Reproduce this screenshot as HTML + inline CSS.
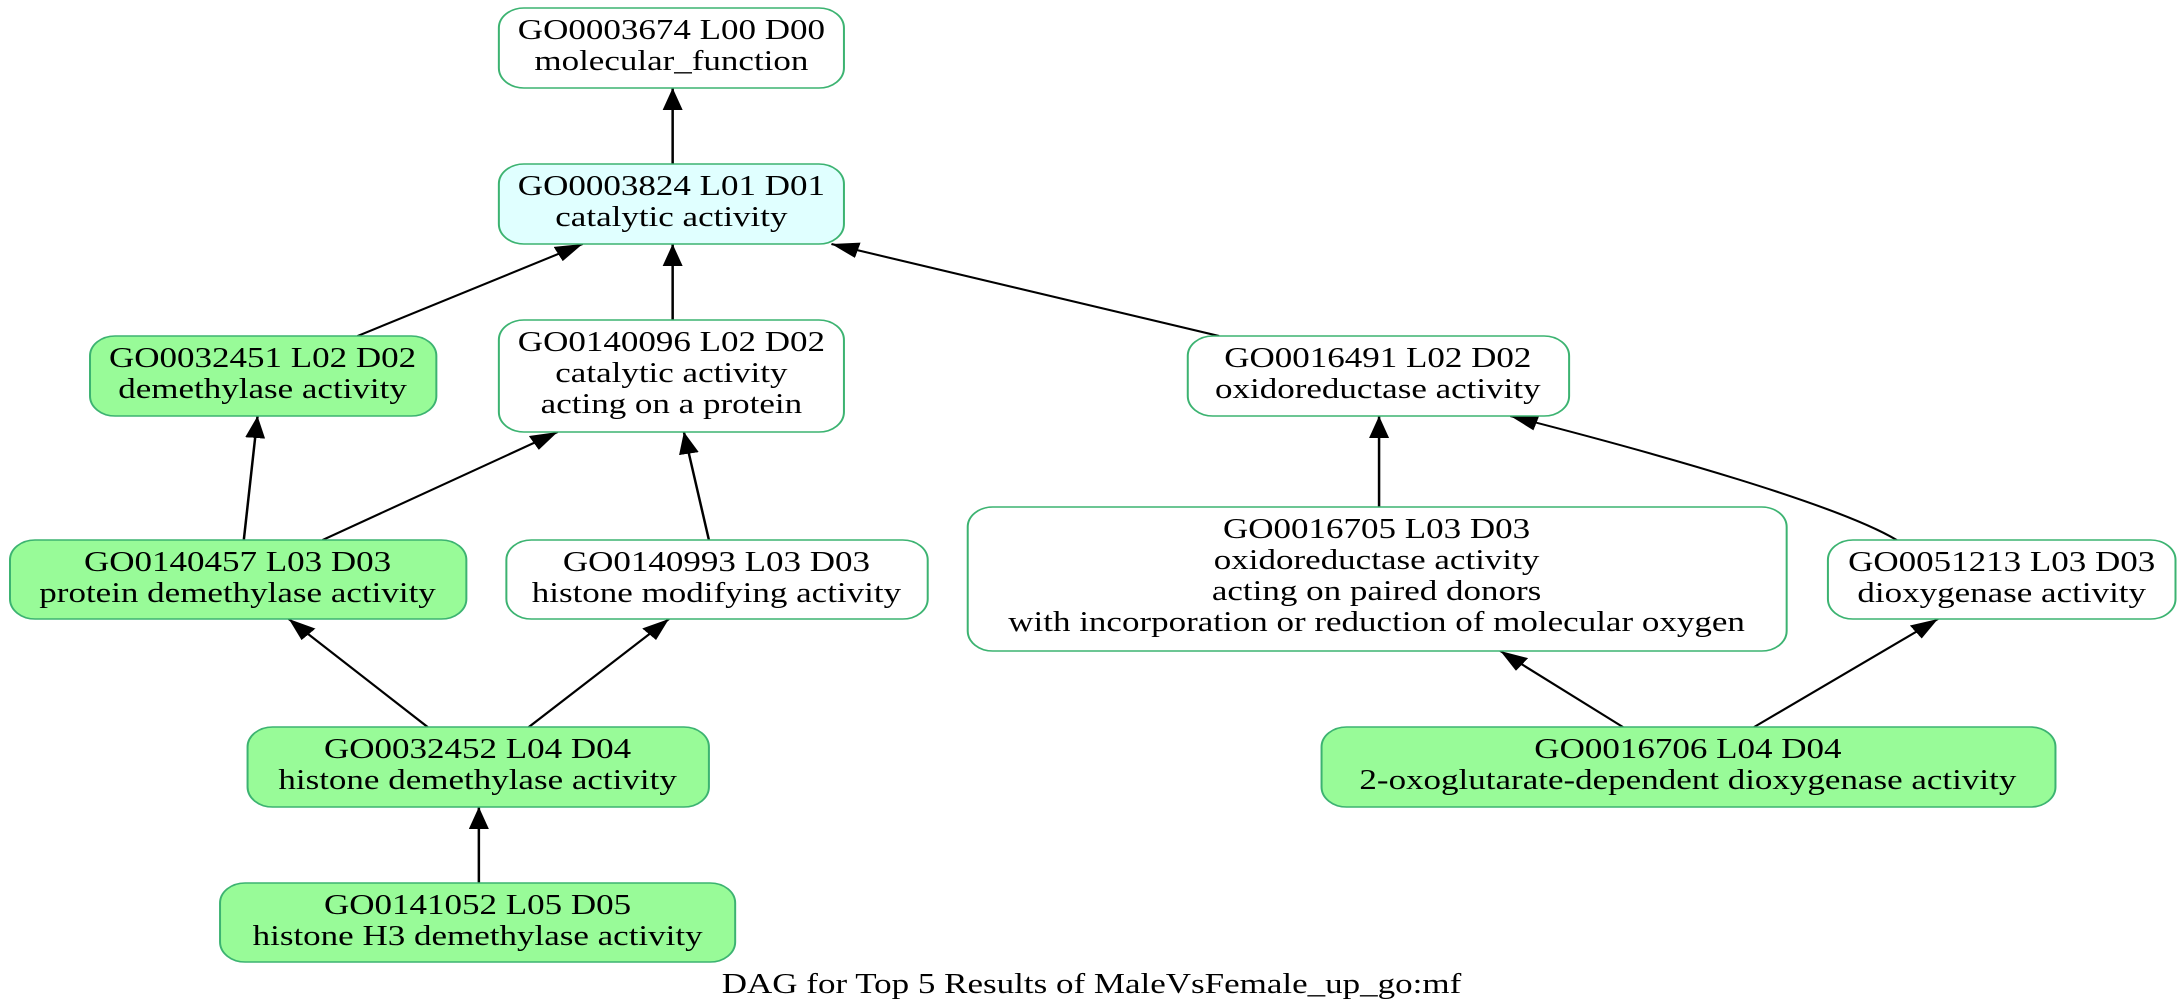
<!DOCTYPE html>
<html><head><meta charset="utf-8"><style>
html,body{margin:0;padding:0;background:#fff;width:2183px;height:1008px;overflow:hidden}
svg{display:block}
text{font-family:"Liberation Serif",serif;font-size:28px;fill:#000;text-anchor:middle}
.n{stroke:#3cb371;stroke-width:1.6}
.e{stroke:#000;stroke-width:2;fill:none}
</style></head><body>
<svg width="2183" height="1008" viewBox="0 0 1746 1008" preserveAspectRatio="none">
<defs><marker id="a" markerUnits="userSpaceOnUse" markerWidth="24" markerHeight="18" refX="22" refY="8" orient="auto"><path d="M0,0 L22,8 L0,16 z" fill="#000"/></marker></defs>
<rect width="1746" height="1008" fill="#fff"/>
<!-- edges -->
<g class="e" marker-end="url(#a)">
<line x1="538" y1="164" x2="538" y2="88"/>
<line x1="286" y1="336" x2="466" y2="244"/>
<line x1="538" y1="320" x2="538" y2="244"/>
<line x1="975" y1="336" x2="665" y2="244"/>
<line x1="195" y1="540" x2="206" y2="416"/>
<line x1="258" y1="540" x2="446" y2="432"/>
<line x1="567" y1="540" x2="547" y2="432"/>
<line x1="1103" y1="507" x2="1103" y2="416"/>
<path d="M1517,540 C1470,505 1330,455 1208,416"/>
<line x1="342" y1="727" x2="231" y2="619"/>
<line x1="423" y1="727" x2="535" y2="619"/>
<line x1="1298" y1="727" x2="1200" y2="651"/>
<line x1="1403" y1="727" x2="1550" y2="619"/>
<line x1="383" y1="883" x2="383" y2="807"/>
</g>
<!-- nodes -->
<rect class="n" x="399" y="8" width="276" height="80" rx="20" fill="#fff"/>
<text x="537" y="39">GO0003674 L00 D00</text><text x="537" y="70">molecular_function</text>

<rect class="n" x="399" y="164" width="276" height="80" rx="20" fill="#e0ffff"/>
<text x="537" y="195">GO0003824 L01 D01</text><text x="537" y="226">catalytic activity</text>

<rect class="n" x="72" y="336" width="277" height="80" rx="20" fill="#98fb98"/>
<text x="210" y="367">GO0032451 L02 D02</text><text x="210" y="398">demethylase activity</text>

<rect class="n" x="399" y="320" width="276" height="112" rx="20" fill="#fff"/>
<text x="537" y="351">GO0140096 L02 D02</text><text x="537" y="382">catalytic activity</text><text x="537" y="413">acting on a protein</text>

<rect class="n" x="950" y="336" width="305" height="80" rx="20" fill="#fff"/>
<text x="1102" y="367">GO0016491 L02 D02</text><text x="1102" y="398">oxidoreductase activity</text>

<rect class="n" x="8" y="540" width="365" height="79" rx="20" fill="#98fb98"/>
<text x="190" y="571">GO0140457 L03 D03</text><text x="190" y="602">protein demethylase activity</text>

<rect class="n" x="405" y="540" width="337" height="79" rx="20" fill="#fff"/>
<text x="573" y="571">GO0140993 L03 D03</text><text x="573" y="602">histone modifying activity</text>

<rect class="n" x="774" y="507" width="655" height="144" rx="20" fill="#fff"/>
<text x="1101" y="538">GO0016705 L03 D03</text><text x="1101" y="569">oxidoreductase activity</text><text x="1101" y="600">acting on paired donors</text><text x="1101" y="631">with incorporation or reduction of molecular oxygen</text>

<rect class="n" x="1462" y="540" width="278" height="79" rx="20" fill="#fff"/>
<text x="1601" y="571">GO0051213 L03 D03</text><text x="1601" y="602">dioxygenase activity</text>

<rect class="n" x="198" y="727" width="369" height="80" rx="20" fill="#98fb98"/>
<text x="382" y="758">GO0032452 L04 D04</text><text x="382" y="789">histone demethylase activity</text>

<rect class="n" x="1057" y="727" width="587" height="80" rx="20" fill="#98fb98"/>
<text x="1350" y="758">GO0016706 L04 D04</text><text x="1350" y="789">2-oxoglutarate-dependent dioxygenase activity</text>

<rect class="n" x="176" y="883" width="412" height="79" rx="20" fill="#98fb98"/>
<text x="382" y="914">GO0141052 L05 D05</text><text x="382" y="945">histone H3 demethylase activity</text>

<text x="873" y="993">DAG for Top 5 Results of MaleVsFemale_up_go:mf</text>
</svg>
</body></html>
